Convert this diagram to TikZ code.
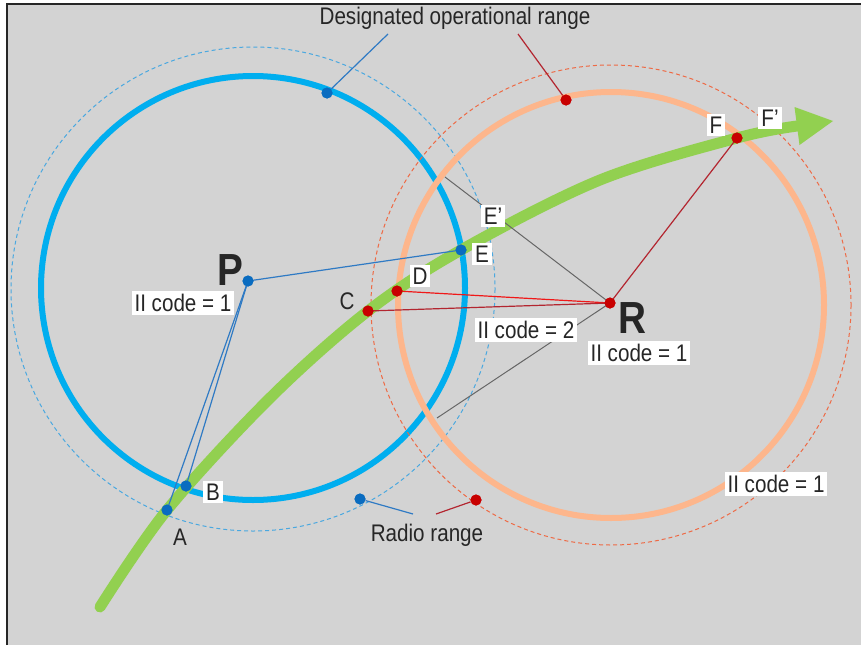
\documentclass[tikz,border=0pt]{standalone}
\usepackage{fontspec}
\setmainfont{Liberation Sans}[FakeStretch=0.86]
\begin{document}
\begin{tikzpicture}[x=1pt,y=-1pt,
  lbl/.style={font=\fontsize{24}{28}\selectfont, text=black!85, inner sep=0pt},
  wbox/.style={lbl, fill=white, inner xsep=3pt, inner ysep=3pt},
  big/.style={font=\fontsize{45}{48}\selectfont\bfseries, text=black!85, inner sep=0pt},
  bdot/.style={circle, fill=dotblue, minimum size=11pt, inner sep=0pt},
  rdot/.style={circle, fill=dotred, minimum size=11pt, inner sep=0pt}]
\definecolor{bg}{HTML}{D3D3D3}
\definecolor{cblue}{HTML}{00AEEF}
\definecolor{dotblue}{HTML}{0A6CC0}
\definecolor{lblue}{HTML}{2F7AC4}
\definecolor{dblue}{HTML}{4AA8E0}
\definecolor{peach}{HTML}{FDB68C}
\definecolor{dorange}{HTML}{EE6A45}
\definecolor{dotred}{HTML}{C80000}
\definecolor{lred}{HTML}{F01818}
\definecolor{dred}{HTML}{B32630}
\definecolor{grn}{HTML}{92D050}
\useasboundingbox (0,0) rectangle (861,645);
\fill[bg] (7,4) rectangle (861,645);
\draw[black!85, line width=1.5pt] (7,645) -- (7,4) -- (861,4);
% circles
\draw[dblue, line width=1pt, dash pattern=on 4pt off 3pt] (253,289) circle[radius=242];
\draw[cblue, line width=6pt] (253,288) circle[radius=212];
\draw[dorange, line width=1pt, dash pattern=on 4pt off 3pt] (611,305) circle[radius=240];
\draw[peach, line width=6pt] (611,305) circle[radius=213];
% green path
\draw[grn, line width=11pt, line cap=round] plot[smooth, tension=0.55] coordinates {(100,607) (167,510) (270,398) (368,311) (461,250) (600,180) (737,138) (797,126)};
\fill[grn] (833,121) -- (794.5,107) -- (799.5,145) -- cycle;
% dots
\node[bdot] (P) at (248,281) {};
\node[rdot] (R) at (610,303) {};
\node[bdot] (E) at (461,250) {};
\node[rdot] (D) at (397,291) {};
\node[rdot] (C) at (368,311) {};
\node[bdot] (A) at (167,510) {};
\node[bdot] (B) at (186,486) {};
\node[rdot] (F) at (737,138) {};
\node[bdot] (bt) at (327,93) {};
\node[rdot] (ot) at (566,100) {};
\node[bdot] (bb) at (360,499) {};
\node[rdot] (rb) at (476,500) {};
\coordinate (g1) at (445,177);
\coordinate (g2) at (437,418);
\coordinate (l1) at (388,34);
\coordinate (l2) at (518,34);
\coordinate (l3) at (413,514);
\coordinate (l4) at (436,514);
% connectors
\draw[black!60, line width=1pt] (g1) -- (R.center) -- (g2);
\draw[lblue, line width=1.2pt] (P.center) -- (A.center);
\draw[lblue, line width=1.2pt] (P.center) -- (B.center);
\draw[lblue, line width=1.2pt] (P.center) -- (E.center);
\draw[lred, line width=1.2pt] (R.center) -- (D.center);
\draw[dred, line width=1.2pt] (R.center) -- (C.center);
\draw[dred, line width=1.2pt] (R.center) -- (F.center);
\draw[lblue, line width=1.2pt] (bt) -- (l1);
\draw[dred, line width=1.2pt] (ot) -- (l2);
\draw[lblue, line width=1.2pt] (bb) -- (l3);
\draw[dred, line width=1.2pt] (rb) -- (l4);
% redraw dots on top
\foreach \n in {P,E,A,B,bt,bb} \fill[dotblue] (\n) circle[radius=5.5];
\foreach \n in {R,D,C,F,ot,rb} \fill[dotred] (\n) circle[radius=5.5];
% labels
\node[lbl] (t1) at (455,18) {Designated operational range};
\node[lbl] (t2) at (427,535) {Radio range};
\node[big] (tP) at (230,270) {P};
\node[big] (tR) at (632,318) {R};
\node[wbox] (c1) at (183,303) {II code = 1};
\node[wbox] (c2) at (526,330) {II code = 2};
\node[wbox] (c3) at (639,353) {II code = 1};
\node[wbox] (c4) at (776,484) {II code = 1};
\node[wbox] (tB) at (213,492) {B};
\node[lbl] (tA) at (180,537) {A};
\node[lbl] (tC) at (347,301) {C};
\node[wbox] (tD) at (420,276) {D};
\node[wbox] (tE) at (482,254) {E};
\node[wbox] (tE2) at (493,216) {E’};
\node[wbox] (tF) at (716,125) {F};
\node[wbox] (tF2) at (770,118) {F’};
\end{tikzpicture}
\end{document}
